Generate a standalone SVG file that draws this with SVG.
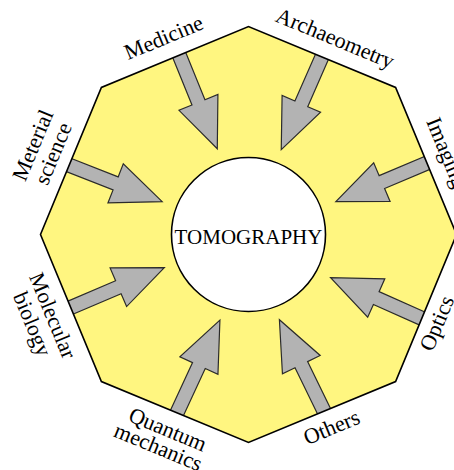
<svg xmlns="http://www.w3.org/2000/svg" xmlns:xlink="http://www.w3.org/1999/xlink" width="454" height="470" viewBox="0 0 454 470">
<style>
.oct-fill{fill:#FFF680;stroke:none}
.oct-line{fill:none;stroke:#000;stroke-width:1.6;stroke-linejoin:miter}
.arrow{fill:#B3B3B3;stroke:#2b2b2b;stroke-width:1.2;stroke-linejoin:miter}
.lbl{font-family:"Liberation Serif","Times New Roman",serif;font-size:22px;fill:#000;text-anchor:middle}
.center-txt{font-family:"Liberation Serif","Times New Roman",serif;font-size:21px;fill:#000;text-anchor:middle}
</style>
<defs>
<clipPath id="octClip"><polygon points="456.5,234.5 395.6,381.6 248.5,442.5 101.4,381.6 40.5,234.5 101.4,87.4 248.5,26.5 395.6,87.4"/></clipPath>
<path id="arr" d="M-6,-7 H49 V-21 L99,0 L49,21 V7 H-6 Z"/>
</defs>
<g id="octagon">
<polygon class="oct-fill" points="456.5,234.5 395.6,381.6 248.5,442.5 101.4,381.6 40.5,234.5 101.4,87.4 248.5,26.5 395.6,87.4"/>
</g>
<g id="connectors" clip-path="url(#octClip)">
<use xlink:href="#arr" class="arrow" transform="translate(180,57) rotate(67.87)"/>
<use xlink:href="#arr" class="arrow" transform="translate(321,59) rotate(113.67)"/>
<use xlink:href="#arr" class="arrow" transform="translate(427,163) rotate(157.03)"/>
<use xlink:href="#arr" class="arrow" transform="translate(421,318) rotate(204.03)"/>
<use xlink:href="#arr" class="arrow" transform="translate(322.8,408.7) rotate(-116)"/>
<use xlink:href="#arr" class="arrow" transform="translate(178.3,410) rotate(-65.14)"/>
<use xlink:href="#arr" class="arrow" transform="translate(73.3,306.5) rotate(-23.15)"/>
<use xlink:href="#arr" class="arrow" transform="translate(70,165.5) rotate(21.43)"/>
</g>
<g id="octagon-outline">
<polygon class="oct-line" points="456.5,234.5 395.6,381.6 248.5,442.5 101.4,381.6 40.5,234.5 101.4,87.4 248.5,26.5 395.6,87.4"/>
</g>
<g id="tomography">
<circle cx="248.5" cy="234.5" r="77" fill="#fff" stroke="#000" stroke-width="1.6"/>
<text class="center-txt" x="248.5" y="244">TOMOGRAPHY</text>
</g>
<g id="label-medicine" transform="translate(174.95,56.93) rotate(-22.5)">
<text class="lbl" x="-3" y="-15">Medicine</text>
</g>
<g id="label-archaeometry" transform="translate(322.05,56.93) rotate(22.5)">
<text class="lbl" x="5" y="-15">Archaeometry</text>
</g>
<g id="label-imaging" transform="translate(426.07,160.95) rotate(67.5)">
<text class="lbl" x="0" y="-15">Imaging</text>
</g>
<g id="label-optics" transform="translate(426.07,308.05) rotate(-67.5)">
<text class="lbl" x="-10" y="23">Optics</text>
</g>
<g id="label-others" transform="translate(322.05,412.07) rotate(-22.5)">
<text class="lbl" x="3" y="25">Others</text>
</g>
<g id="label-quantum" transform="translate(174.95,412.07) rotate(22.5)">
<text class="lbl" x="0" y="26">Quantum</text>
<text class="lbl" x="-2" y="46">mechanics</text>
</g>
<g id="label-molecular" transform="translate(70.93,308.05) rotate(67.5)">
<text class="lbl" x="0" y="27">Molecular</text>
<text class="lbl" x="0" y="49">biology</text>
</g>
<g id="label-material" transform="translate(70.93,160.95) rotate(-67.5)">
<text class="lbl" x="0" y="-34">Meterial</text>
<text class="lbl" x="0" y="-12">science</text>
</g>
</svg>
